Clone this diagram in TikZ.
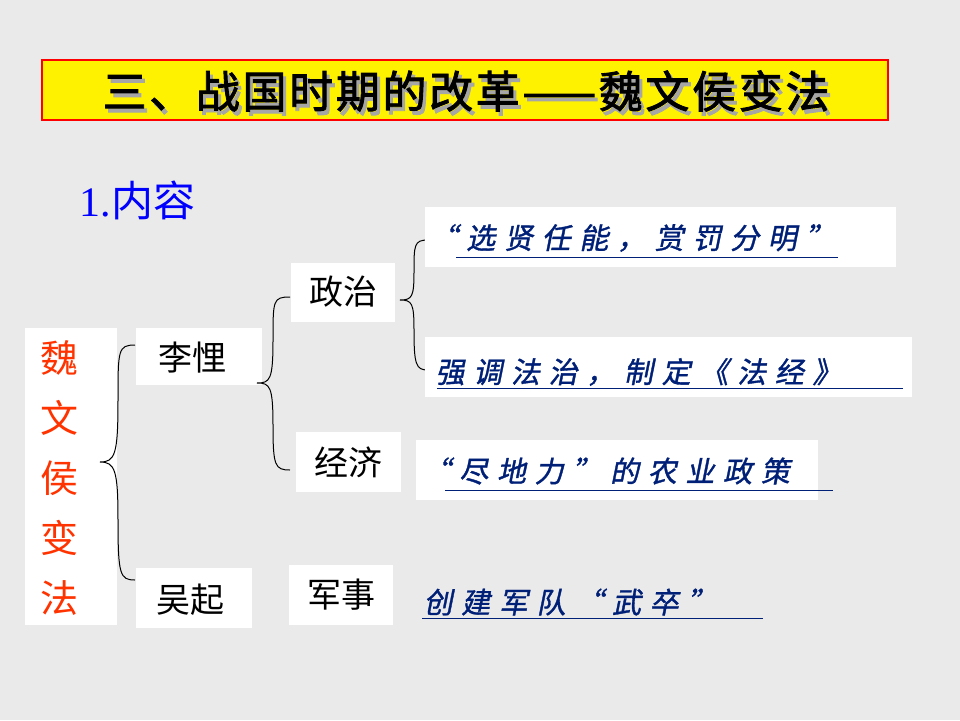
\documentclass[tikz,border=0pt]{standalone}
\usepackage{fontspec}
\setmainfont{Liberation Serif}
\newfontfamily\cjk{Noto Sans CJK SC}
\newfontfamily\cjkb[FakeBold=2,LetterSpace=6]{Noto Sans CJK SC}
\newfontfamily\cjks[FakeSlant=0.2,FakeBold=1.2,LetterSpace=30]{Noto Sans CJK SC}
\definecolor{bg}{RGB}{234,234,234}
\definecolor{dblue}{RGB}{0,32,120}
\definecolor{ored}{RGB}{255,51,0}
\tikzset{
 lbl/.style={font=\cjk\fontsize{34}{36}\selectfont,anchor=center},
 blu/.style={font=\cjks\fontsize{29}{30}\selectfont,text=dblue,anchor=west},
 brace/.style={draw=black,line width=1pt},
 ul/.style={draw=dblue,line width=1pt}
}
\begin{document}
\begin{tikzpicture}[x=1pt,y=-1pt]
\fill[bg] (0,0) rectangle (960,720);
\useasboundingbox (0,0) rectangle (960,720);
% title
\node[draw=red,line width=2pt,fill=yellow,minimum width=846,minimum height=60,inner sep=0] (title) at (465,90) {};
\node[font=\cjkb\fontsize{44}{46}\selectfont,text=gray!70] (tsh) at (469,95) {三、战国时期的改革——魏文侯变法};
\node[font=\cjkb\fontsize{44}{46}\selectfont] (t) at (466,91) {三、战国时期的改革——魏文侯变法};
\node[anchor=west,text=blue,font=\fontsize{42}{44}\selectfont] (sub) at (76,200) {1.{\cjk 内容}};
% left box
\fill[white] (25,328) rectangle (117,625);
\node[font=\cjk\fontsize{38}{60}\selectfont,text=ored,align=center] (w) at (59,478) {魏\\文\\侯\\变\\法};
% boxes
\fill[white] (136,328) rectangle (262,385); \node[lbl] (li) at (192,358) {李悝};
\fill[white] (136,568) rectangle (252,628); \node[lbl] (wu) at (190,600) {吴起};
\fill[white] (291,263) rectangle (395,322); \node[lbl] (zz) at (343,292) {政治};
\fill[white] (296,432) rectangle (401,492); \node[lbl] (jj) at (348,462) {经济};
\fill[white] (289,565) rectangle (393,625); \node[lbl] (js) at (341,595) {军事};
% braces
\draw[brace] (135,345) .. controls (118,345) and (118,350) .. (118,400) .. controls (118,455) and (115,462) .. (100,462) .. controls (115,462) and (118,470) .. (118,520) .. controls (118,575) and (120,580) .. (135,580);
\draw[brace] (290,297) .. controls (273,297) and (273,300) .. (273,340) .. controls (273,380) and (270,383) .. (257,383) .. controls (270,383) and (273,386) .. (273,426) .. controls (273,466) and (275,470) .. (290,470);
\draw[brace] (428,240) .. controls (414,240) and (414,245) .. (414,272) .. controls (414,297) and (412,300) .. (400,300) .. controls (412,300) and (414,303) .. (414,330) .. controls (414,365) and (416,370) .. (428,370);
% blue texts
\fill[white] (425,207) rectangle (896,267);
\node[blu] (b1) at (425,238) {“选贤任能，赏罚分明”};
\draw[ul] (456,257) -- (838,257);
\fill[white] (425,337) rectangle (912,397);
\node[blu] (b2) at (432,372) {强调法治，制定《法经》};
\draw[ul] (437,388) -- (903,388);
\fill[white] (416,440) rectangle (818,500);
\node[blu] (b3) at (418,471) {“尽地力”的农业政策};
\draw[ul] (445,490) -- (833,490);
\node[blu] (b4) at (420,602) {创建军队“武卒”};
\draw[ul] (422,618) -- (763,618);
\end{tikzpicture}
\end{document}
